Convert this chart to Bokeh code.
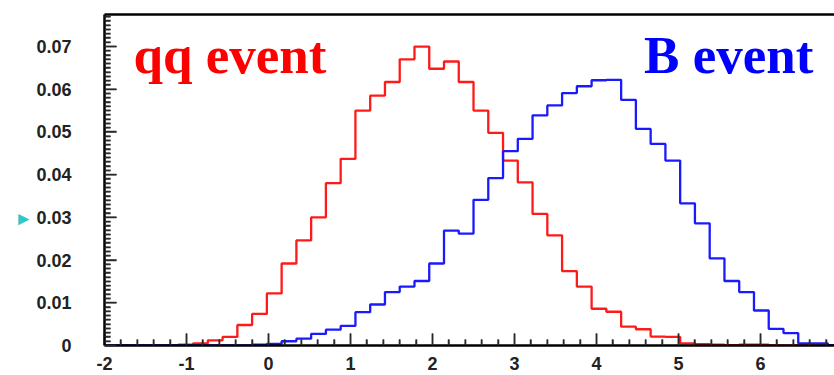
import numpy as np
from bokeh.plotting import figure
from bokeh.models import (FixedTicker, Range1d, Label, LinearAxis)
from bokeh.embed import file_html
from bokeh.resources import INLINE

# ---- data: 50 bins from -2 to 7 (width 0.18) ----
bin_lo, bin_hi, n_bins = -2.0, 7.0, 50
qq_values = [0, 0, 0, 0, 0, 0.0002, 0.0005, 0.0012, 0.0020, 0.0048,
             0.0074, 0.0122, 0.0192, 0.0246, 0.0300, 0.0380, 0.0437, 0.0550, 0.0585, 0.0617,
             0.0670, 0.0700, 0.0648, 0.0665, 0.0617, 0.0550, 0.0498, 0.0433, 0.0382, 0.0308,
             0.0258, 0.0174, 0.0138, 0.0086, 0.0079, 0.0044, 0.0038, 0.0021, 0.0020, 0.0005,
             0.0003, 0.0002, 0.0001, 0.0002, 0.0002, 0, 0, 0, 0, 0]
b_values = [0, 0, 0, 0, 0, 0, 0, 0, 0, 0,
            0.0002, 0.0004, 0.0010, 0.0016, 0.0027, 0.0037, 0.0046, 0.0078, 0.0096, 0.0125,
            0.0138, 0.0151, 0.0192, 0.0269, 0.0262, 0.0341, 0.0392, 0.0455, 0.0484, 0.0539,
            0.0562, 0.0591, 0.0607, 0.0621, 0.0622, 0.0575, 0.0507, 0.0472, 0.0433, 0.0333,
            0.0286, 0.0204, 0.0151, 0.0125, 0.0082, 0.0039, 0.0029, 0.0005, 0.0005, 0.0001]
y_ticks = [0, 0.01, 0.02, 0.03, 0.04, 0.05, 0.06, 0.07]
y_tick_labels = ["0", "0.01", "0.02", "0.03", "0.04", "0.05", "0.06", "0.07"]
x_ticks = [-2, -1, 0, 1, 2, 3, 4, 5, 6]
x_tick_labels = ["-2", "-1", "0", "1", "2", "3", "4", "5", "6"]

edges = [float(e) for e in np.linspace(bin_lo, bin_hi, n_bins + 1)]

X0, X1 = -2.0, 6.902
Y0, Y1 = 0.0, 0.0775
px_x = (X1 - X0) / 730   # data units per pixel (frame 730 x 331 px)
px_y = (Y1 - Y0) / 331

p = figure(width=834, height=375, output_backend="svg", toolbar_location=None,
           x_range=Range1d(X0, X1), y_range=Range1d(Y0, Y1),
           min_border_left=104, min_border_right=0, min_border_top=14,
           min_border_bottom=30, outline_line_color=None,
           background_fill_color=None, border_fill_color=None)
p.xgrid.visible = False
p.ygrid.visible = False

# histograms
p.step(x=edges, y=list(qq_values) + [qq_values[-1]], mode="after",
       line_color="#ff1a1a", line_width=2.3)
p.step(x=edges, y=list(b_values) + [b_values[-1]], mode="after",
       line_color="#1a1aff", line_width=2.3)

y_minor = [round(0.001 * i, 4) for i in range(0, 78) if i % 10 != 0]
x_minor = [round(-2 + 0.2 * i, 2) for i in range(0, 45) if i % 5 != 0]

# inward ticks as glyphs too (same places as the axis ticks)
tick_col = "#2a2a2a"
p.segment(x0=[X0] * len(y_ticks), y0=y_ticks, x1=[X0 + 12 * px_x] * len(y_ticks), y1=y_ticks,
          line_color=tick_col, line_width=1.5)
p.segment(x0=[X0] * len(y_minor), y0=y_minor, x1=[X0 + 6 * px_x] * len(y_minor), y1=y_minor,
          line_color=tick_col, line_width=1.5)
p.segment(x0=x_ticks, y0=[Y0] * len(x_ticks), x1=x_ticks, y1=[Y0 + 12 * px_y] * len(x_ticks),
          line_color=tick_col, line_width=1.5)
p.segment(x0=x_minor, y0=[Y0] * len(x_minor), x1=x_minor, y1=[Y0 + 6 * px_y] * len(x_minor),
          line_color=tick_col, line_width=1.5)

# axes styling (ROOT-like: ticks inside the frame)
for ax in (p.xaxis[0], p.yaxis[0]):
    ax.axis_line_color = "black"
    ax.axis_line_width = 2.5
    ax.major_tick_line_color = tick_col
    ax.minor_tick_line_color = tick_col
    ax.major_tick_line_width = 1.5
    ax.minor_tick_line_width = 1.5
    ax.major_tick_in = 12
    ax.major_tick_out = 0
    ax.minor_tick_in = 6
    ax.minor_tick_out = 0
    ax.major_label_text_font_style = "bold"
    ax.major_label_text_font_size = "18px"
    ax.major_label_text_color = "#222222"

p.yaxis[0].ticker = FixedTicker(ticks=y_ticks, minor_ticks=y_minor)
p.yaxis[0].major_label_overrides = {t: l for t, l in zip(y_ticks, y_tick_labels)}
p.yaxis[0].major_label_standoff = 33
# cyan bullet at the left edge, as the y-axis label
p.yaxis[0].axis_label = "\u25bc" + "\u00a0" * 15
p.yaxis[0].axis_label_text_color = "#33c6c6"
p.yaxis[0].axis_label_text_font_style = "normal"
p.yaxis[0].axis_label_text_font_size = "19px"
p.yaxis[0].axis_label_standoff = 0

p.xaxis[0].ticker = FixedTicker(ticks=x_ticks, minor_ticks=x_minor)
p.xaxis[0].major_label_overrides = {t: l for t, l in zip(x_ticks, x_tick_labels)}
p.xaxis[0].major_label_standoff = 11

# top frame line
top = LinearAxis(ticker=FixedTicker(ticks=[]), axis_line_color="black", axis_line_width=2.5,
                 major_tick_out=0, minor_tick_out=0, major_label_text_font_size="0px",
                 major_label_standoff=0)
p.add_layout(top, "above")

# annotations
p.add_layout(Label(x=-1.646, y=0.0681, text="qq event", text_color="#ff0000",
                   text_font="Liberation Serif", text_font_style="bold",
                   text_font_size="53px", text_baseline="alphabetic"))
p.add_layout(Label(x=4.58, y=0.0681, text="B event", text_color="#0000ff",
                   text_font="Liberation Serif", text_font_style="bold",
                   text_font_size="53px", text_baseline="alphabetic"))

open("out.html", "w").write(file_html(p, INLINE))
